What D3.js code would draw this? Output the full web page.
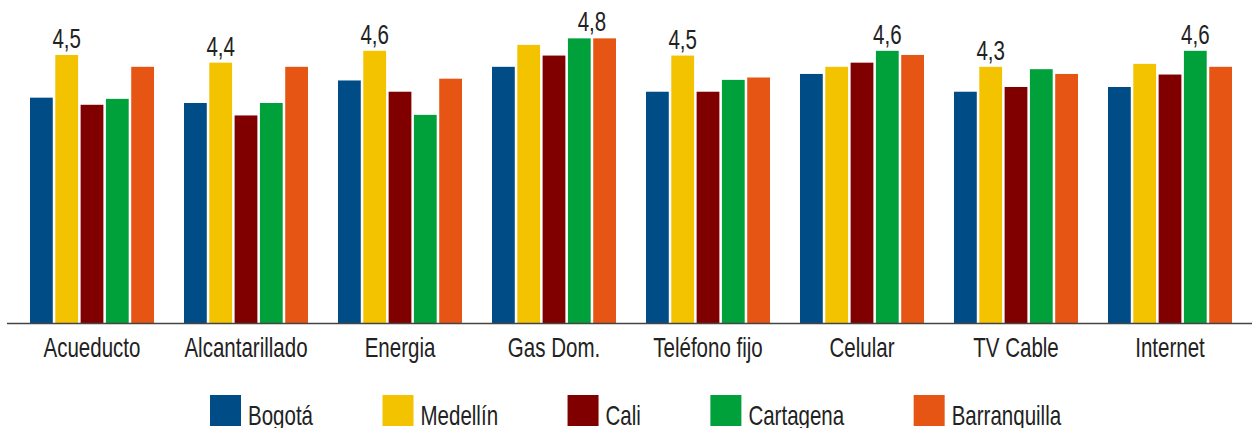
<!DOCTYPE html>
<html>
<head>
<meta charset="utf-8">
<script src="https://cdn.jsdelivr.net/npm/d3@7"></script>
<style>
  body { margin: 0; background: #fff; }
  text { font-family: "Liberation Sans", Arial, sans-serif; fill: #222; }
</style>
</head>
<body>
<div id="chart"></div>
<script>
// categorias y ciudades
var categories = ["Acueducto", "Alcantarillado", "Energia", "Gas Dom.", "Teléfono fijo", "Celular", "TV Cable", "Internet"];
var cities = ["Bogotá", "Medellín", "Cali", "Cartagena", "Barranquilla"];
var colors = ["#004c86", "#f3c300", "#800000", "#00a03b", "#e65513"];

// valores por ciudad (mismo orden que categories)
var bogota       = [3.80, 3.71, 4.09, 4.32, 3.90, 4.20, 3.90, 3.98];
var medellin     = [4.52, 4.39, 4.59, 4.69, 4.51, 4.32, 4.32, 4.37];
var cali         = [3.68, 3.50, 3.90, 4.51, 3.90, 4.39, 3.98, 4.19];
var cartagena    = [3.78, 3.71, 3.51, 4.80, 4.10, 4.59, 4.28, 4.59];
var barranquilla = [4.32, 4.32, 4.12, 4.80, 4.14, 4.52, 4.20, 4.32];
var series = [bogota, medellin, cali, cartagena, barranquilla];

var w = 1252, h = 428;
var baseY = 323;
var fs = 27, squeeze = 0.76; // letra condensada

var svg = d3.select("#chart").append("svg")
    .attr("width", w)
    .attr("height", h);

var x = d3.scaleBand()
    .domain(categories)
    .range([15, 1247])
    .paddingInner(30 / 154)
    .paddingOuter(15 / 154);

var xs = d3.scaleBand()
    .domain(cities)
    .range([0, x.bandwidth()])
    .paddingInner(0.1);

var y = d3.scaleLinear()
    .domain([0, 5])
    .range([baseY, baseY - 5 * 59.3]);

var rows = categories.map(function (c, i) {
    return {
        cat: c,
        vals: cities.map(function (city, j) { return { city: city, idx: j, v: series[j][i] }; })
    };
});

var groups = svg.append("g")
    .selectAll("g")
    .data(rows)
    .join("g")
    .attr("transform", d => "translate(" + x(d.cat) + ",0)");

groups.selectAll("rect")
    .data(d => d.vals)
    .join("rect")
    .attr("x", d => xs(d.city))
    .attr("y", d => y(d.v))
    .attr("width", xs.bandwidth())
    .attr("height", d => baseY - y(d.v))
    .attr("fill", d => colors[d.idx]);

// etiqueta del valor maximo de cada categoria
var fmt = v => d3.format(".1f")(v).replace(".", ",");
groups.append("text")
    .attr("transform", function (d) {
        var m = d3.max(d.vals, e => e.v);
        var tops = d.vals.filter(e => e.v === m);
        var cx = d3.mean(tops, e => xs(e.city) + xs.bandwidth() / 2);
        return "translate(" + cx + "," + (y(m) - 7) + ") scale(" + squeeze + ",1)";
    })
    .attr("text-anchor", "middle")
    .style("font-size", fs + "px")
    .text(d => fmt(d3.max(d.vals, e => e.v)));

// eje
var axis = svg.append("g")
    .attr("transform", "translate(0," + baseY + ")")
    .call(d3.axisBottom(x).tickSize(0));
axis.select(".domain").remove();
axis.selectAll("text")
    .attr("y", 34)
    .attr("dy", 0)
    .attr("transform", "scale(" + squeeze + ",1)")
    .style("font-size", fs + "px")
    .attr("fill", "#222");
axis.append("line")
    .attr("x1", 7).attr("x2", w)
    .attr("y1", 0.5).attr("y2", 0.5)
    .attr("stroke", "#444")
    .attr("stroke-width", 1.6);

// leyenda
var legend = svg.append("g").attr("transform", "translate(210,395)");
var lx = 0;
cities.forEach(function (c, i) {
    var g = legend.append("g").attr("transform", "translate(" + lx + ",0)");
    g.append("rect")
        .attr("width", 31).attr("height", 31)
        .attr("fill", colors[i]);
    var t = g.append("text")
        .attr("transform", "translate(38,30) scale(" + squeeze + ",1)")
        .style("font-size", fs + "px")
        .text(c);
    lx += 38 + t.node().getComputedTextLength() * squeeze + 69.5;
});
</script>
</body>
</html>
